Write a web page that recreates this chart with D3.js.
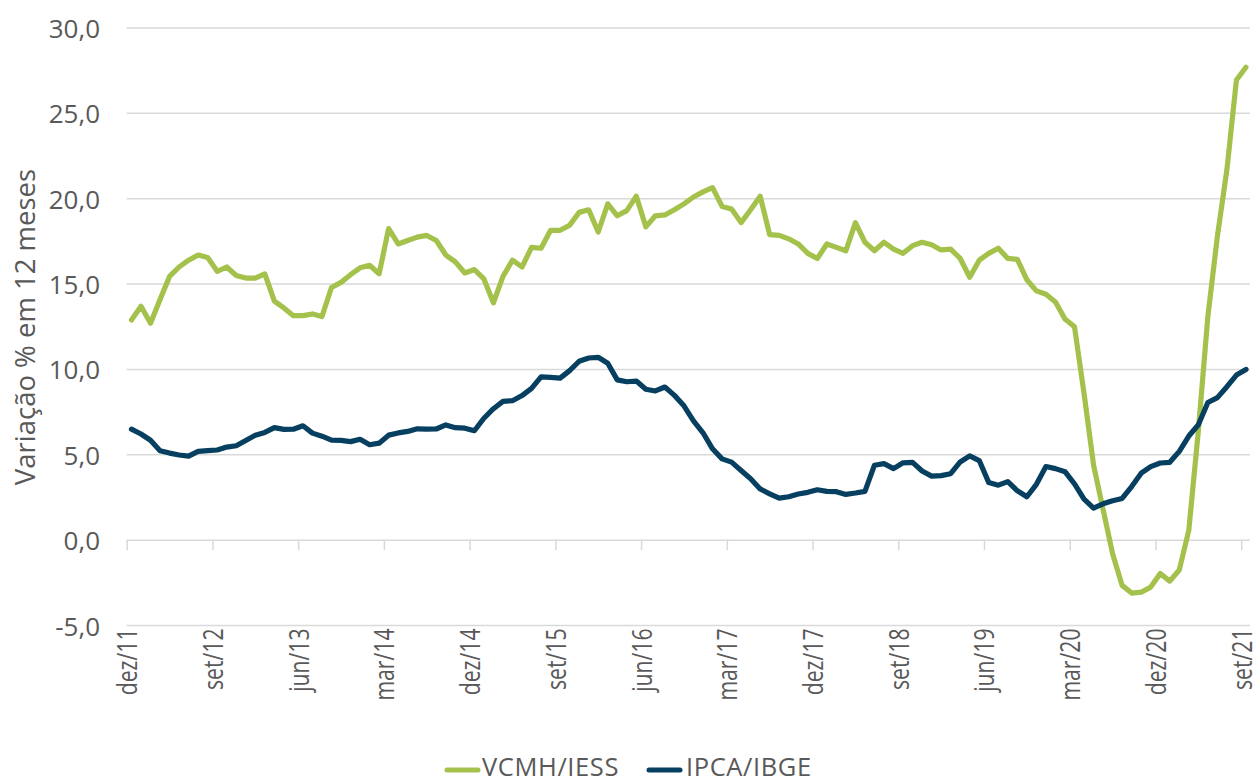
<!DOCTYPE html>
<html>
<head>
<meta charset="utf-8">
<script src="https://cdn.jsdelivr.net/npm/d3@7"></script>
<style>
  html, body { margin: 0; padding: 0; background: #ffffff; }
  svg { display: block; }
  text { font-family: "Open Sans", "DejaVu Sans", sans-serif; fill: #595959; }
</style>
</head>
<body>
<svg id="chart" width="1259" height="782"></svg>
<script>
// ---- data (monthly, dez/11 .. set/21) ----
const seriesNames = ["VCMH/IESS", "IPCA/IBGE"];
const seriesColors = ["#a3c14b", "#063f5f"];

const vcmh = [
  12.9, 13.7, 12.7, 14.1, 15.45, 16.0, 16.4, 16.7, 16.55, 15.75, 16.0, 15.5, 15.35,
  15.35, 15.6, 14.0, 13.6, 13.15, 13.15, 13.25, 13.1, 14.8, 15.1, 15.55, 15.95,
  16.1, 15.6, 18.25, 17.35, 17.55, 17.75, 17.85, 17.55, 16.7, 16.3, 15.65, 15.85,
  15.3, 13.9, 15.45, 16.4, 16.0, 17.15, 17.1, 18.15, 18.15, 18.45, 19.2, 19.35,
  18.05, 19.7, 19.0, 19.3, 20.15, 18.35, 19.0, 19.05, 19.35, 19.7, 20.1, 20.4,
  20.65, 19.55, 19.4, 18.6, 19.35, 20.15, 17.9, 17.85, 17.65, 17.35, 16.8, 16.5,
  17.35, 17.15, 16.95, 18.6, 17.45, 16.95, 17.45, 17.05, 16.8, 17.25, 17.45, 17.3,
  17.0, 17.05, 16.5, 15.4, 16.4, 16.8, 17.1, 16.5, 16.45, 15.25, 14.6, 14.4,
  13.95, 12.95, 12.5, 8.6, 4.4, 1.8, -0.8, -2.65, -3.1, -3.05, -2.75, -1.95,
  -2.4, -1.75, 0.58, 6.4, 13.1, 17.8, 21.7, 26.95, 27.7
];

const ipca = [
  6.50, 6.22, 5.85, 5.24, 5.10, 4.99, 4.92, 5.20, 5.24, 5.28, 5.45, 5.53, 5.84,
  6.15, 6.31, 6.59, 6.49, 6.50, 6.70, 6.27, 6.09, 5.86, 5.84, 5.77, 5.91,
  5.59, 5.68, 6.15, 6.28, 6.37, 6.52, 6.50, 6.51, 6.75, 6.59, 6.56, 6.41,
  7.14, 7.70, 8.13, 8.17, 8.47, 8.89, 9.56, 9.53, 9.49, 9.93, 10.48, 10.67,
  10.71, 10.36, 9.39, 9.28, 9.32, 8.84, 8.74, 8.97, 8.48, 7.87, 6.99, 6.29,
  5.35, 4.76, 4.57, 4.08, 3.60, 3.00, 2.71, 2.46, 2.54, 2.70, 2.80, 2.95,
  2.86, 2.84, 2.68, 2.76, 2.86, 4.39, 4.48, 4.19, 4.53, 4.56, 4.05, 3.75,
  3.78, 3.89, 4.58, 4.94, 4.66, 3.37, 3.22, 3.43, 2.89, 2.54, 3.27, 4.31,
  4.19, 4.01, 3.30, 2.40, 1.88, 2.13, 2.31, 2.44, 3.14, 3.92, 4.31, 4.52,
  4.56, 5.20, 6.10, 6.76, 8.06, 8.35, 8.99, 9.67, 10.0
];

const tickLabels = ["dez/11", "set/12", "jun/13", "mar/14", "dez/14", "set/15", "jun/16",
                    "mar/17", "dez/17", "set/18", "jun/19", "mar/20", "dez/20", "set/21"];
const tickStep = 9; // months between labelled ticks
const yTicks = [-5, 0, 5, 10, 15, 20, 25, 30];
const yTitle = "Variação % em 12 meses";

// ---- layout ----
const svg = d3.select("#chart");
const plotLeft = 126.7, plotRight = 1250;
const nMonths = vcmh.length; // 118

// month index scale: tick at start of month, points at mid-month
const x = d3.scaleLinear().domain([0, nMonths - 1]).range([126.7, 1241.2]);
const y = d3.scaleLinear().domain([-5, 30]).range([625.5, 28]);

const fmt = v => d3.format(".1f")(v).replace(".", ",").replace("\u2212", "-");

// gridlines
svg.append("g").selectAll("line").data(yTicks.filter(d => d !== 0)).join("line")
  .attr("x1", plotLeft).attr("x2", plotRight)
  .attr("y1", d => y(d)).attr("y2", d => y(d))
  .attr("stroke", "#d9d9d9").attr("stroke-width", 1.5);

// y labels
svg.append("g").selectAll("text").data(yTicks).join("text")
  .attr("x", 100).attr("y", d => y(d))
  .attr("text-anchor", "end").attr("dominant-baseline", "central")
  .style("font-size", "26px")
  .text(fmt);

// y title
svg.append("text")
  .attr("transform", `translate(24,327) rotate(-90)`)
  .attr("text-anchor", "middle").attr("dominant-baseline", "central")
  .style("font-size", "27.5px")
  .text(yTitle);

// zero axis with ticks
const tickIdx = tickLabels.map((_, k) => k * tickStep);
const xAxis = d3.axisBottom(x).tickValues(tickIdx).tickSize(10).tickFormat("");
const gAxis = svg.append("g").attr("transform", `translate(0,${y(0)})`).call(xAxis);
gAxis.select(".domain").attr("stroke", "#d9d9d9").attr("stroke-width", 1.5)
  .attr("d", `M${plotLeft},0H${plotRight}`);
gAxis.selectAll(".tick line").attr("stroke", "#d9d9d9").attr("stroke-width", 1.5);

// x labels (rotated) at bottom
svg.append("g").selectAll("text").data(tickLabels).join("text")
  .attr("transform", (d, k) => `translate(${x(tickIdx[k])},${y(-5) + 3}) rotate(-90) scale(0.8,1)`)
  .attr("text-anchor", "end").attr("dominant-baseline", "central")
  .style("font-size", "26.5px")
  .text(d => d);

// lines
const line = d3.line().x((d, i) => x(i + 0.5)).y(d => y(d));
[vcmh, ipca].forEach((s, k) => {
  svg.append("path").datum(s)
    .attr("fill", "none").attr("stroke", seriesColors[k])
    .attr("stroke-width", 5.2).attr("stroke-linejoin", "round").attr("stroke-linecap", "round")
    .attr("d", line);
});

// legend
const legendY = 770;
const legendItems = [{x: 447, tx: 482}, {x: 649, tx: 686}];
legendItems.forEach((p, k) => {
  svg.append("line").attr("x1", p.x).attr("x2", p.x + 31)
    .attr("y1", legendY).attr("y2", legendY)
    .attr("stroke", seriesColors[k]).attr("stroke-width", 5).attr("stroke-linecap", "round");
  svg.append("text").attr("x", p.tx).attr("y", legendY + 5.5)
    .attr("dominant-baseline", "auto").style("font-size", "25.5px")
    .style("letter-spacing", "0.6px")
    .text(seriesNames[k]);
});
</script>
</body>
</html>
